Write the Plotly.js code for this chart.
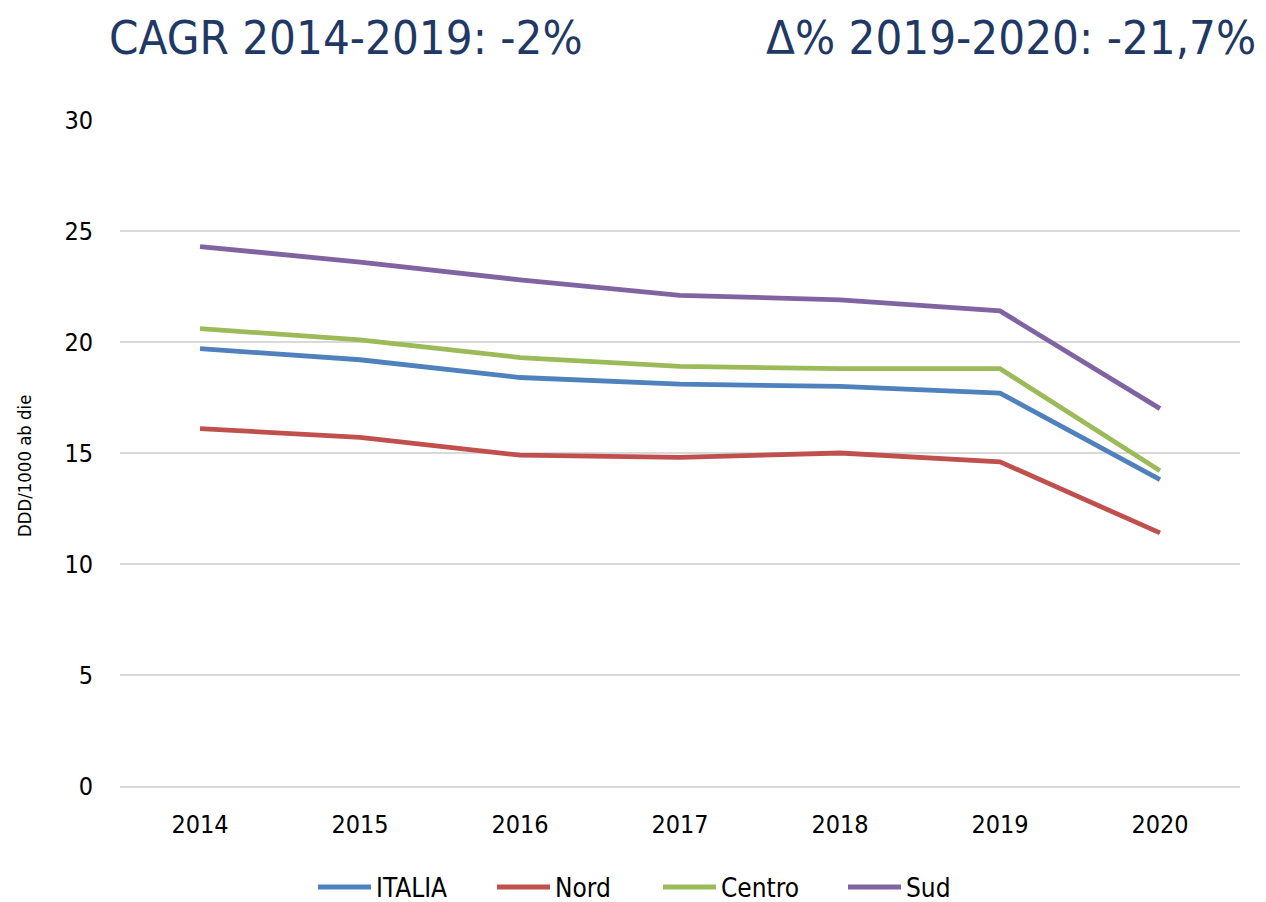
<!DOCTYPE html>
<html>
<head>
<meta charset="utf-8">
<script src="https://cdn.plot.ly/plotly-3.0.1.min.js"></script>
<style>html,body{margin:0;padding:0;background:#fff;}#chart{width:1266px;height:902px;}</style>
</head>
<body>
<div id="chart"></div>
<script>
const years = ['2014','2015','2016','2017','2018','2019','2020'];
const italia = [19.7, 19.2, 18.4, 18.1, 18.0, 17.7, 13.8];
const nord   = [16.1, 15.7, 14.9, 14.8, 15.0, 14.6, 11.4];
const centro = [20.6, 20.1, 19.3, 18.9, 18.8, 18.8, 14.2];
const sud    = [24.3, 23.6, 22.8, 22.1, 21.9, 21.4, 17.0];
const seriesNames = ['ITALIA', 'Nord', 'Centro', 'Sud'];
const colors = ['#4F81BD', '#C0504D', '#9BBB59', '#8064A2'];
const yTitle = 'DDD/1000 ab die';
const titleLeft = 'CAGR 2014-2019: -2%';
const titleRight = 'Δ% 2019-2020: -21,7%';

const FONT = '"DejaVu Sans Condensed", "Liberation Sans Narrow", Arial, sans-serif';
const legendIds = ['legend', 'legend2', 'legend3', 'legend4'];
const legendLeft = [313, 492, 658, 843];

const data = [italia, nord, centro, sud].map((v, i) => ({
  x: years, y: v, type: 'scatter', mode: 'lines', name: seriesNames[i],
  legend: legendIds[i],
  line: {color: colors[i], width: 4.8}
}));

const layout = {
  width: 1266, height: 902,
  margin: {l: 120, r: 26, t: 120, b: 116},
  paper_bgcolor: '#fff', plot_bgcolor: '#fff',
  font: {family: FONT, size: 20, color: '#000'},
  showlegend: true,
  xaxis: {type: 'category', range: [-0.5, 6.5], showgrid: false, zeroline: false,
          showline: true, linecolor: '#d9d9d9', linewidth: 1.5, ticks: '',
          ticklabelstandoff: 15, tickfont: {family: FONT, size: 25, color: '#000'}},
  yaxis: {range: [0, 30], dtick: 5, showgrid: true, gridcolor: '#d9d9d9', gridwidth: 1.5,
          zeroline: false, showline: false, ticks: '', ticklabelstandoff: 26,
          tickfont: {family: FONT, size: 25, color: '#000'}},
  annotations: [
    {text: titleLeft, xref: 'paper', yref: 'paper', x: -0.0116, y: 1.1246,
     xanchor: 'left', yanchor: 'middle', showarrow: false,
     font: {family: FONT, size: 47, color: '#1F3864'}},
    {text: titleRight, xref: 'paper', yref: 'paper', x: 1.016, y: 1.1246,
     xanchor: 'right', yanchor: 'middle', showarrow: false,
     font: {family: FONT, size: 47, color: '#1F3864'}},
    {text: yTitle, xref: 'paper', yref: 'paper', x: (25 - 120) / 1120, y: (786 - 466) / 666,
     xanchor: 'center', yanchor: 'middle', textangle: -90, showarrow: false,
     font: {family: FONT, size: 18.4, color: '#000'}}
  ]
};
legendIds.forEach((id, i) => {
  layout[id] = {orientation: 'h', x: legendLeft[i] / 1266, xanchor: 'left', xref: 'container',
                y: 0.0165, yanchor: 'middle', yref: 'container', itemwidth: 53,
                font: {family: FONT, size: 26, color: '#000'}, bgcolor: 'rgba(0,0,0,0)'};
});
Plotly.newPlot('chart', data, layout, {displayModeBar: false});
</script>
</body>
</html>
